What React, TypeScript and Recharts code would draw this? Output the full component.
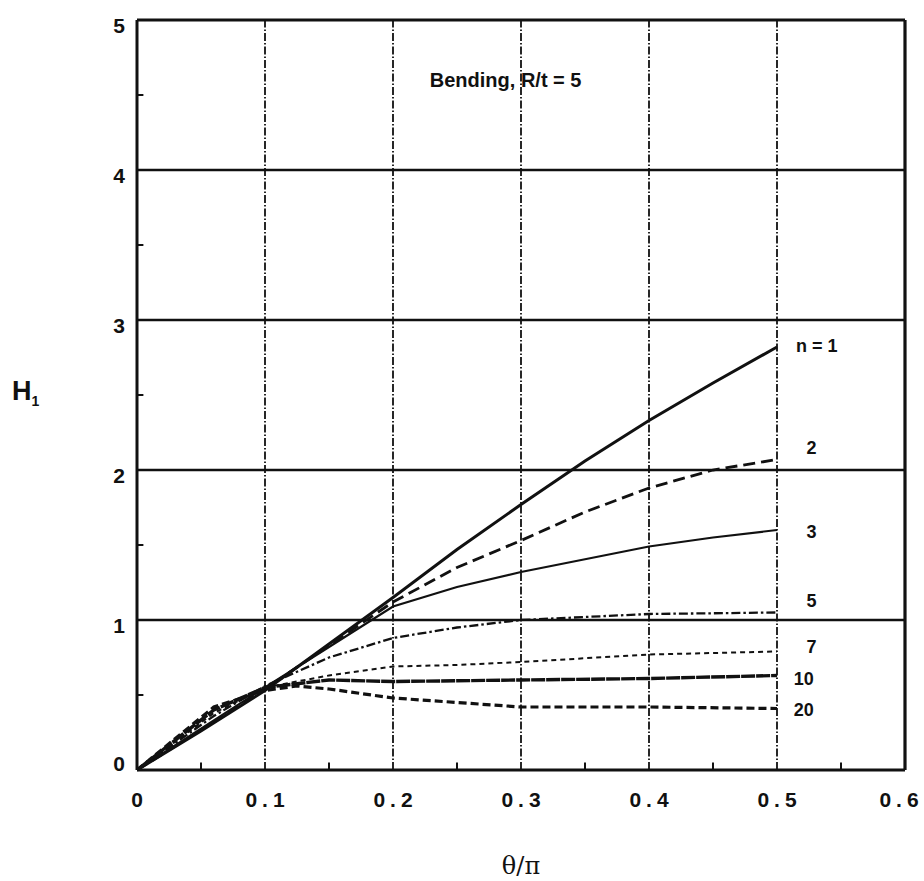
import React from 'react';
import { LineChart, Line, XAxis, YAxis, ReferenceLine, ReferenceDot } from 'recharts';

const xTicks = [0, 0.1, 0.2, 0.3, 0.4, 0.5, 0.6];
const yTicks = [0, 1, 2, 3, 4, 5];
const xMinor = [0.05, 0.15, 0.25, 0.35, 0.45, 0.55];
const yMinor = [0.5, 1.5, 2.5, 3.5, 4.5];

const thetaN1 = [0, 0.05, 0.1, 0.15, 0.2, 0.25, 0.3, 0.35, 0.4, 0.45, 0.5];
const hN1 = [0, 0.26, 0.53, 0.84, 1.15, 1.47, 1.77, 2.06, 2.33, 2.58, 2.82];
const thetaN2 = [0, 0.06, 0.1, 0.15, 0.2, 0.25, 0.3, 0.35, 0.4, 0.45, 0.5];
const hN2 = [0, 0.32, 0.54, 0.83, 1.12, 1.35, 1.53, 1.72, 1.88, 2.0, 2.07];
const thetaN3 = [0, 0.06, 0.1, 0.15, 0.2, 0.25, 0.3, 0.4, 0.45, 0.5];
const hN3 = [0, 0.33, 0.55, 0.82, 1.09, 1.22, 1.32, 1.49, 1.55, 1.6];
const thetaN5 = [0, 0.06, 0.1, 0.15, 0.2, 0.25, 0.3, 0.4, 0.5];
const hN5 = [0, 0.36, 0.56, 0.75, 0.88, 0.95, 1.0, 1.04, 1.05];
const thetaN7 = [0, 0.06, 0.1, 0.15, 0.2, 0.25, 0.3, 0.4, 0.5];
const hN7 = [0, 0.38, 0.55, 0.63, 0.69, 0.7, 0.72, 0.77, 0.79];
const thetaN10 = [0, 0.06, 0.1, 0.15, 0.2, 0.3, 0.4, 0.5];
const hN10 = [0, 0.4, 0.55, 0.6, 0.59, 0.6, 0.61, 0.63];
const thetaN20 = [0, 0.06, 0.1, 0.125, 0.15, 0.2, 0.25, 0.3, 0.4, 0.5];
const hN20 = [0, 0.42, 0.53, 0.56, 0.54, 0.48, 0.45, 0.42, 0.42, 0.41];

const curveLabels = ['n = 1', '2', '3', '5', '7', '10', '20'];
const curveLabelX = [0.531, 0.527, 0.527, 0.527, 0.527, 0.521, 0.521];
const curveLabelY = [2.83, 2.15, 1.59, 1.13, 0.82, 0.61, 0.4];

const zip = (xs: number[], ys: number[]) => xs.map((x, i) => ({ x, y: ys[i] }));

const series = [
  { key: 'n1', data: zip(thetaN1, hN1), dash: undefined, w: 3 },
  { key: 'n2', data: zip(thetaN2, hN2), dash: '12 6', w: 2.8 },
  { key: 'n3', data: zip(thetaN3, hN3), dash: undefined, w: 2.2 },
  { key: 'n5', data: zip(thetaN5, hN5), dash: '9 3 2.5 3', w: 2.3 },
  { key: 'n7', data: zip(thetaN7, hN7), dash: '5 4', w: 2 },
  { key: 'n10', data: zip(thetaN10, hN10), dash: '14 1', w: 3.4 },
  { key: 'n20', data: zip(thetaN20, hN20), dash: '8 4', w: 3.2 },
];

const FONT = '"Liberation Sans", Arial, sans-serif';
const INK = '#111';

const XTick = (props: any) => {
  const { x, y, payload } = props;
  const v = payload.value === 0 ? '0' : payload.value.toFixed(1);
  const shift = payload.value >= 0.6 ? -6 : 0;
  return (
    <text x={x + 2.5 + shift} y={y} textAnchor="middle" dy="0.71em" fontFamily={FONT} fontWeight="bold" fontSize={21} letterSpacing={5} fill={INK}>
      {v}
    </text>
  );
};

const YTick = (props: any) => {
  const { x, y, payload } = props;
  return (
    <text x={x} y={y} textAnchor="end" dy={payload.value === 0 ? '0.05em' : '0.6em'} fontFamily={FONT} fontWeight="bold" fontSize={21} fill={INK}>
      {payload.value}
    </text>
  );
};

const textLabel = (value: string, size: number) => (props: any) => {
  const { viewBox } = props;
  const cx = viewBox.x + (viewBox.width || 0) / 2;
  const cy = viewBox.y + (viewBox.height || 0) / 2;
  return (
    <text x={cx} y={cy} textAnchor="middle" dominantBaseline="central" fontFamily={FONT} fontWeight="bold" fontSize={size} fill={INK}>
      {value}
    </text>
  );
};

export default function App() {
  return (
    <div style={{ position: 'absolute', left: 0, top: 0, width: 924, height: 881, background: '#fff', overflow: 'hidden' }}>
      <LineChart
        width={924}
        height={881}
        margin={{ top: 20, right: 19, bottom: 81, left: 77 }}
      >
        <XAxis
          dataKey="x"
          type="number"
          domain={[0, 0.6]}
          ticks={xTicks}
          tick={<XTick />}
          tickSize={0}
          tickMargin={22}
          height={30}
          axisLine={{ stroke: INK, strokeWidth: 3 }}
          allowDuplicatedCategory={false}
        />
        <YAxis
          type="number"
          domain={[0, 5]}
          ticks={yTicks}
          tick={<YTick />}
          tickSize={0}
          tickMargin={12}
          width={60}
          axisLine={{ stroke: INK, strokeWidth: 3 }}
        />
        {[1, 2, 3, 4].map((v) => (
          <ReferenceLine key={'h' + v} y={v} stroke={INK} strokeWidth={2.4} />
        ))}
        <ReferenceLine y={5} stroke={INK} strokeWidth={3.2} />
        {[0.1, 0.2, 0.3, 0.4, 0.5].map((v) => (
          <ReferenceLine key={'v' + v} x={v} stroke={INK} strokeWidth={1.8} strokeDasharray="8 2 1.5 2" />
        ))}
        <ReferenceLine x={0.6} stroke={INK} strokeWidth={3.2} />
        {xMinor.map((v) => (
          <ReferenceLine key={'mx' + v} segment={[{ x: v, y: 0 }, { x: v, y: 0.05 }]} stroke={INK} strokeWidth={2} />
        ))}
        {yMinor.map((v) => (
          <ReferenceLine key={'my' + v} segment={[{ x: 0, y: v }, { x: 0.005, y: v }]} stroke={INK} strokeWidth={2} />
        ))}
        {series.map((s) => (
          <Line
            key={s.key}
            data={s.data}
            dataKey="y"
            type="linear"
            stroke={INK}
            strokeWidth={s.w}
            strokeDasharray={s.dash}
            dot={false}
            activeDot={false}
            isAnimationActive={false}
          />
        ))}
        {curveLabels.map((t, i) => (
          <ReferenceDot key={'lbl' + t} x={curveLabelX[i]} y={curveLabelY[i]} r={0} fill="none" stroke="none" label={textLabel(t, 18)} />
        ))}
        <ReferenceDot x={0.288} y={4.6} r={0} fill="none" stroke="none" label={textLabel('Bending, R/t = 5', 20)} />
      </LineChart>
      <div style={{ position: 'absolute', left: 12, top: 376, fontFamily: FONT, fontWeight: 'bold', fontSize: 27, color: INK, lineHeight: 'normal' }}>
        H<sub style={{ fontSize: 14 }}>1</sub>
      </div>
      <div style={{ position: 'absolute', left: 461, width: 120, textAlign: 'center', top: 852, fontFamily: '"DejaVu Serif", "Liberation Serif", serif', fontSize: 24, color: INK }}>
        θ/π
      </div>
    </div>
  );
}
